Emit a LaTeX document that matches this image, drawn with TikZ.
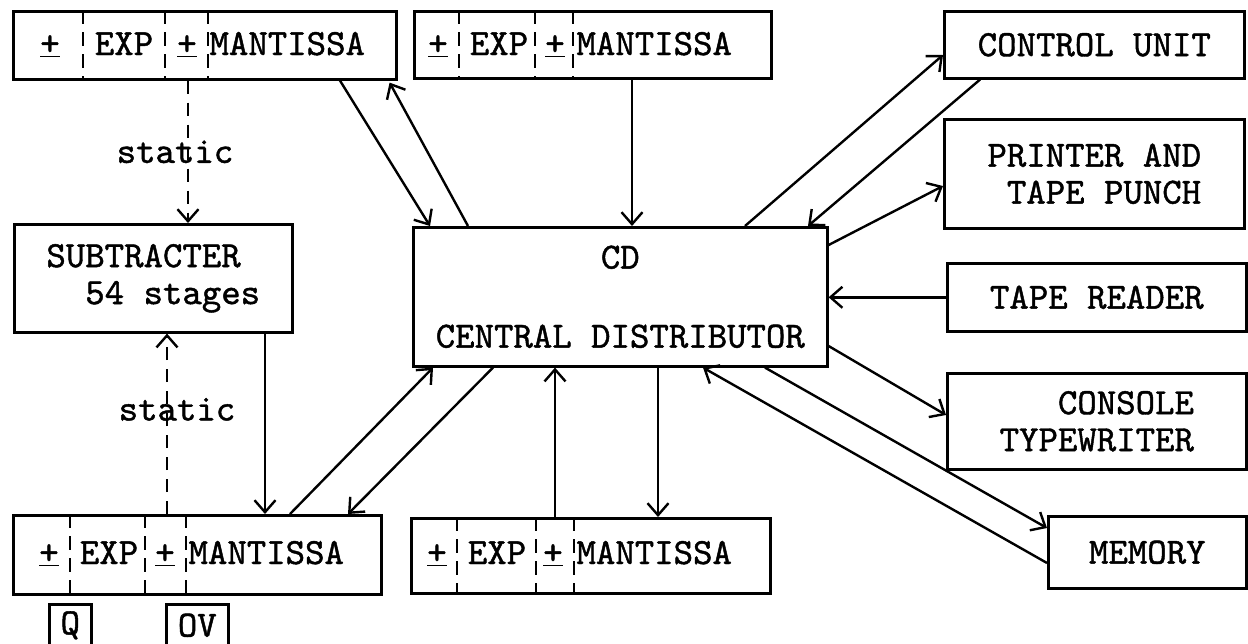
\documentclass[tikz,border=0pt]{standalone}
\usepackage{fontspec}
\newfontfamily\typer{lmmono10-regular.otf}[FakeBold=1.2]
\usepackage{tikz}
\usetikzlibrary{arrows,arrows.meta}
\newcommand{\sgn}{\underline{+}}
\tikzstyle{unit} = [draw, rectangle, line width=2.6pt, anchor=north west,
    inner sep=0pt, align=center]
\tikzstyle{field} = [line width=2pt, dash pattern=on 14pt off 8pt]
\tikzstyle{flow} = [-{Straight Barb[length=12pt,width=21pt]}, line width=2.4pt]
\tikzstyle{sflow} = [flow, dash pattern=on 13pt off 9pt]

\begin{document}
\begin{tikzpicture}[x=1pt, y=-1pt,
    font=\fontsize{37pt}{37pt}\selectfont\typer]
  \useasboundingbox (0,0) rectangle (1248,643);

  % registers
  \node [unit, minimum width=383pt, minimum height=68pt] (rA) at (12,10) {};
  \foreach \d in {71,153,196}
    \draw [field] ([xshift=\d pt]rA.north west) -- ([xshift=\d pt]rA.south west);
  \node [anchor=base] (rAs1) at (50,55) {\sgn};
  \node [anchor=base] (rAexp) at (124,55) {EXP};
  \node [anchor=base] (rAs2) at (187,55) {\sgn};
  \node [anchor=base west] (rAm) at (206,55) {MANTISSA};

  \node [unit, minimum width=357pt, minimum height=67pt] (rB) at (413,10) {};
  \foreach \d in {46,122,160}
    \draw [field] ([xshift=\d pt]rB.north west) -- ([xshift=\d pt]rB.south west);
  \node [anchor=base] (rBs1) at (438,55) {\sgn};
  \node [anchor=base] (rBexp) at (499,55) {EXP};
  \node [anchor=base] (rBs2) at (555,55) {\sgn};
  \node [anchor=base west] (rBm) at (573,55) {MANTISSA};

  \node [unit, minimum width=368pt, minimum height=79pt] (rC) at (12,514) {};
  \foreach \d in {58,133,174}
    \draw [field] ([xshift=\d pt]rC.north west) -- ([xshift=\d pt]rC.south west);
  \node [anchor=base] (rCs1) at (49,564) {\sgn};
  \node [anchor=base] (rCexp) at (109,564) {EXP};
  \node [anchor=base] (rCs2) at (165,564) {\sgn};
  \node [anchor=base west] (rCm) at (185,564) {MANTISSA};

  \node [unit, minimum width=359pt, minimum height=75pt] (rD) at (410,517) {};
  \foreach \d in {47,126,164}
    \draw [field] ([xshift=\d pt]rD.north west) -- ([xshift=\d pt]rD.south west);
  \node [anchor=base] (rDs1) at (437,564) {\sgn};
  \node [anchor=base] (rDexp) at (497,564) {EXP};
  \node [anchor=base] (rDs2) at (553,564) {\sgn};
  \node [anchor=base west] (rDm) at (573,564) {MANTISSA};

  \node [unit, minimum width=42pt, minimum height=42pt] (q) at (48,603) {Q};
  \node [unit, minimum width=62pt, minimum height=42pt] (ov) at (165,603) {OV};

  % units
  \node [unit, minimum width=278pt, minimum height=108pt, align=left] (sub) at (13,223)
    {SUBTRACTER\\\hspace*{1.05em}54 stages};
  \node [unit, minimum width=414pt, minimum height=139pt] (cd) at (412,226)
    {CD\\[42pt]CENTRAL DISTRIBUTOR};
  \node [unit, minimum width=300pt, minimum height=67pt] (cu) at (943,10) {CONTROL UNIT};
  \node [unit, minimum width=300pt, minimum height=109pt, align=right] (pr) at (943,118)
    {PRINTER AND\\TAPE PUNCH};
  \node [unit, minimum width=299pt, minimum height=68pt] (tr) at (946,262) {TAPE READER};
  \node [unit, minimum width=299pt, minimum height=96pt, align=right] (ct) at (946,372)
    {CONSOLE\\TYPEWRITER};
  \node [unit, minimum width=198pt, minimum height=72pt] (mem) at (1047,515) {MEMORY};

  % static paths
  \draw [sflow] ([xshift=176pt]rA.south west)
    -- node [pos=0.5, xshift=-13pt] (st1) {static} ([xshift=176pt]rA.south west |- sub.north);
  \draw [sflow] ([xshift=155pt]rC.north west)
    -- node [pos=0.58, xshift=10pt] (st2) {static} ([xshift=155pt]rC.north west |- sub.south);

  % transfers
  \draw [flow] ([xshift=328pt]rA.south west) -- ([xshift=18pt]cd.north west);
  \draw [flow] ([xshift=56pt]cd.north west) -- ([xshift=-8pt,yshift=-2pt]rA.south east);
  \draw [flow] ([xshift=219pt]rB.south west) -- ([xshift=219pt]rB.south west |- cd.north);
  \draw [flow] ([xshift=333pt]cd.north west) -- ([yshift=-45pt]cu.north west);
  \draw [flow] ([xshift=37pt]cu.south west) -- ([xshift=396pt]cd.north west);
  \draw [flow] ([yshift=-19pt]cd.north east) -- ([yshift=-68pt]pr.north west);
  \draw [flow] (tr.west) -- (tr.west -| cd.east);
  \draw [flow] ([yshift=-120pt]cd.north east) -- ([yshift=-43pt]ct.north west);
  \draw [flow] ([xshift=353pt]cd.south west) -- ([yshift=-13pt]mem.north west);
  \draw [flow] ([yshift=-48pt]mem.north west) -- ([xshift=291pt]cd.south west);
  \draw [flow] ([xshift=81pt]cd.south west) -- ([xshift=336pt]rC.north west);
  \draw [flow] ([xshift=278pt]rC.north west) -- ([xshift=21pt]cd.south west);
  \draw [flow] ([xshift=145pt]rD.north west) -- ([xshift=145pt]rD.north west |- cd.south);
  \draw [flow] ([xshift=246pt]cd.south west) -- ([xshift=246pt]cd.south west |- rD.north);
  \draw [flow] ([xshift=252pt]sub.south west) -- ([xshift=252pt]sub.south west |- rC.north);
\end{tikzpicture}
\end{document}
